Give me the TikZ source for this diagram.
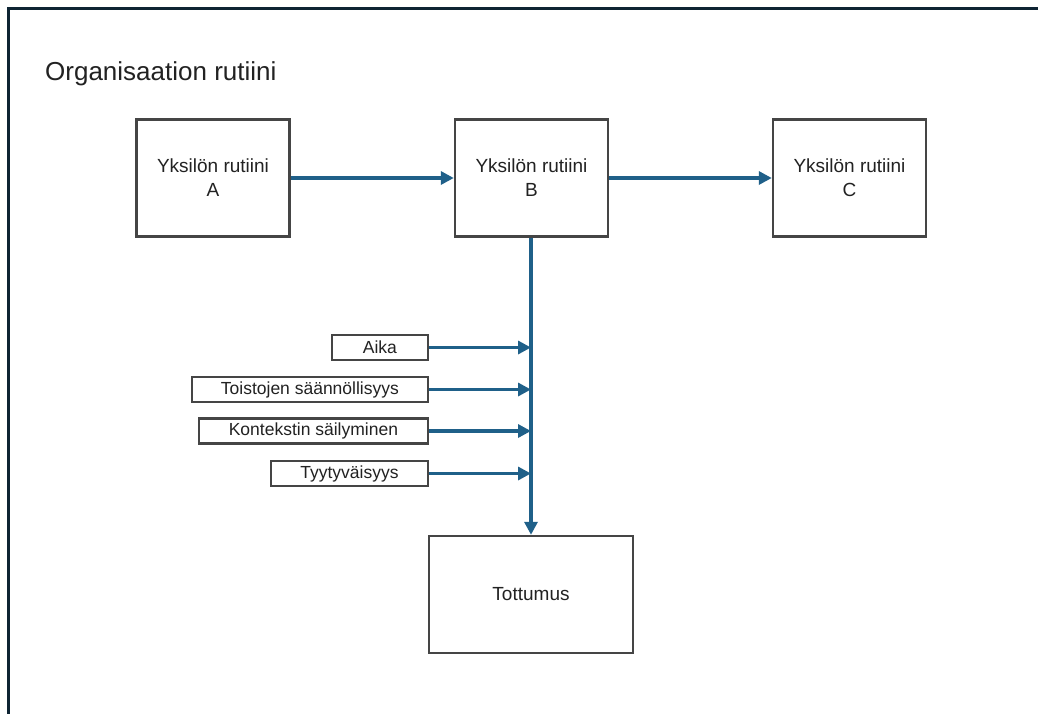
\documentclass[tikz,border=0pt]{standalone}
\usepackage{fontspec}
\setmainfont{Liberation Sans}
\usetikzlibrary{arrows.meta}
\definecolor{framecol}{HTML}{0E2433}
\definecolor{flow}{HTML}{1F6089}
\definecolor{edgecol}{HTML}{454545}
\definecolor{ink}{HTML}{222222}
\begin{document}
\begin{tikzpicture}[x=1pt,y=-1pt,
  bigbox/.style={draw=edgecol,line width=2.4pt,minimum width=153pt,minimum height=117pt,
    align=center,font=\fontsize{19}{24}\selectfont,text=ink,inner sep=0pt},
  tag/.style={draw=edgecol,line width=2.2pt,minimum height=25pt,anchor=east,
    font=\fontsize{17.5}{20}\selectfont,text=ink,inner sep=0pt},
  flowline/.style={draw=flow,line width=3.2pt},
  flowarrow/.style={flowline,-{Triangle[length=13pt,width=13pt]}}]
\useasboundingbox (0,0) rectangle (1038,713);
\clip (0,0) rectangle (1038,713);
\fill[white] (0,0) rectangle (1038,713);

% outer frame (open to the right and bottom)
\draw[framecol,line width=3.5pt] (8.5,760) -- (8.5,8.5) -- (1080,8.5);

% title
\node[anchor=base west,inner sep=0pt,text=ink,font=\fontsize{26}{30}\selectfont] (title) at (45,80) {Organisaation rutiini};

% individual routines
\node[bigbox] (A) at (213,178) {Yksilön rutiini\\A};
\node[bigbox] (B) at (531.5,178) {Yksilön rutiini\\B};
\node[bigbox] (C) at (849.5,178) {Yksilön rutiini\\C};

% habit
\node[bigbox,minimum width=204pt] (H) at (531,594.5) {Tottumus};

% factors
\node[tag,minimum width=96pt] (f1) at (429,347.5) {Aika};
\node[tag,minimum width=236pt] (f2) at (429,389.5) {Toistojen säännöllisyys};
\node[tag,minimum width=229pt] (f3) at (429,431) {Kontekstin säilyminen};
\node[tag,minimum width=157pt] (f4) at (429,473.5) {Tyytyväisyys};

% join points on the vertical line
\coordinate (j1) at (531,347.5);
\coordinate (j2) at (531,389.5);
\coordinate (j3) at (531,431);
\coordinate (j4) at (531,473.5);

% connectors
\draw[flowarrow] (A.east) -- (B.west);
\draw[flowarrow] (B.east) -- (C.west);
\draw[flowarrow] (B.south -| H.north) -- (H.north);
\draw[flowarrow] (f1.east) -- (j1);
\draw[flowarrow] (f2.east) -- (j2);
\draw[flowarrow] (f3.east) -- (j3);
\draw[flowarrow] (f4.east) -- (j4);
\end{tikzpicture}
\end{document}
